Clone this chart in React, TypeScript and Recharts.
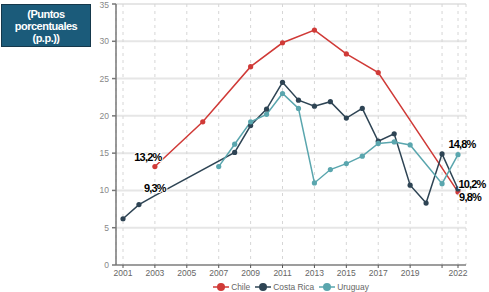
import { LineChart, Line, XAxis, YAxis, CartesianGrid } from 'recharts'

const years = [2001, 2002, 2003, 2004, 2005, 2006, 2007, 2008, 2009, 2010, 2011, 2012, 2013, 2014, 2015, 2016, 2017, 2018, 2019, 2020, 2021, 2022]
const chile = [null, null, 13.2, null, null, 19.2, null, null, 26.6, null, 29.8, null, 31.5, null, 28.3, null, 25.8, null, null, null, null, 9.8]
const costaRica = [6.2, 8.1, 9.3, null, null, null, null, 15.1, 18.7, 20.9, 24.5, 22.1, 21.3, 21.9, 19.7, 21.0, 16.6, 17.6, 10.7, 8.3, 14.9, 10.2]
const uruguay = [null, null, null, null, null, null, 13.2, 16.2, 19.2, 20.2, 23.0, 21.0, 11.0, 12.8, 13.6, 14.6, 16.3, 16.5, 16.1, null, 10.9, 14.8]
const xTicks = [2001, 2003, 2005, 2007, 2009, 2011, 2013, 2015, 2017, 2019, 2021, 2022]
const yTicks = [0, 5, 10, 15, 20, 25, 30, 35]

// which points get a value label: series -> year -> text
const pointLabels: Record<string, Record<number, string>> = {
  chile: { 2003: '13,2%', 2022: '9,8%' },
  costaRica: { 2003: '9,3%', 2022: '10,2%' },
  uruguay: { 2022: '14,8%' },
}
// dots hidden on these points (value only used for the label)
const hiddenDots: Record<string, number[]> = { costaRica: [2003] }

const data = years.map((year, i) => ({
  year,
  chile: chile[i],
  costaRica: costaRica[i],
  uruguay: uruguay[i],
}))

const series = [
  { key: 'chile', name: 'Chile', color: '#d03a37' },
  { key: 'costaRica', name: 'Costa Rica', color: '#2e4454' },
  { key: 'uruguay', name: 'Uruguay', color: '#5aa6ae' },
]

const labelOffset: Record<string, Record<number, [number, number]>> = {
  chile: { 2003: [-7, -6], 2022: [12, 9] },
  costaRica: { 2003: [0, -4], 2022: [14, -1] },
  uruguay: { 2022: [4, -7] },
}

const FONT = '"Liberation Sans", Arial, sans-serif'

function makeLabel(key: string) {
  return (props: any) => {
    const { x, y, index } = props
    const year = data[index]?.year
    const text = pointLabels[key][year]
    if (!text || x == null || y == null) return null
    const [dx, dy] = labelOffset[key][year]
    return (
      <text
        key={`${key}-${year}`}
        x={x + dx}
        y={y + dy}
        textAnchor="middle"
        fontFamily={FONT}
        fontWeight="bold"
        fontSize={11}
        letterSpacing={-0.8}
        fill="#000"
        stroke="#fff"
        strokeWidth={2}
        paintOrder="stroke"
      >
        {text}
      </text>
    )
  }
}

function makeDot(key: string, color: string) {
  return (props: any) => {
    const { cx, cy, index, value } = props
    const year = data[index]?.year
    if (value == null || cx == null || (hiddenDots[key] || []).includes(year)) return <g key={`${key}-d-${index}`} />
    return <circle key={`${key}-d-${index}`} cx={cx} cy={cy} r={2.6} fill={color} />
  }
}

function LegendBox() {
  return (
    <div
      style={{
        position: 'absolute',
        left: 116,
        width: 350,
        top: 282,
        display: 'flex',
        justifyContent: 'center',
        gap: 5,
        fontFamily: FONT,
        fontSize: 8.4,
        lineHeight: '10px',
        color: '#666',
      }}
    >
      {series.map((s) => (
        <div key={s.key} style={{ display: 'flex', alignItems: 'center', gap: 2 }}>
          <svg width={16} height={10}>
            <line x1={0} y1={5} x2={16} y2={5} stroke={s.color} strokeWidth={1.5} />
            <circle cx={8} cy={5} r={4} fill={s.color} />
          </svg>
          <span>{s.name}</span>
        </div>
      ))}
    </div>
  )
}

export default function App() {
  return (
    <div style={{ position: 'absolute', left: 0, top: 0, width: 489, height: 292, background: '#fff' }}>
      <LineChart width={489} height={292} data={data} margin={{ top: 4, right: 23, bottom: 12, left: 0 }}>
        <CartesianGrid stroke="#e6e6e6" strokeWidth={2} vertical={false} />
        <CartesianGrid stroke="#d6d6d6" strokeDasharray="3 4" horizontal={false} />
        <XAxis
          dataKey="year"
          type="number"
          domain={[2001, 2022]}
          ticks={xTicks}
          interval={0}
          tickFormatter={(v: number) => (v === 2021 ? '' : String(v))}
          padding={{ left: 7, right: 8 }}
          height={15}
          stroke="#555"
          tick={{ fill: '#666', fontSize: 8.5, fontFamily: FONT }}
          tickSize={3}
          tickMargin={2}
        />
        <YAxis
          domain={[0, 35]}
          ticks={yTicks}
          width={116}
          stroke="#777"
          strokeWidth={1.5}
          tick={{ fill: '#888', fontSize: 8.5, fontFamily: FONT }}
          tickSize={4}
          tickMargin={3}
        />
        {series.map((s) => (
          <Line
            key={s.key}
            dataKey={s.key}
            name={s.name}
            stroke={s.color}
            strokeWidth={1.5}
            connectNulls
            dot={makeDot(s.key, s.color)}
            activeDot={false}
            label={makeLabel(s.key)}
            isAnimationActive={false}
          />
        ))}
      </LineChart>
      <LegendBox />
      <div
        style={{
          position: 'absolute',
          left: 1,
          top: 4,
          width: 90,
          height: 43,
          background: '#1b5b7a',
          border: '1px solid #15384b',
          boxSizing: 'border-box',
          color: '#fff',
          fontFamily: FONT,
          fontWeight: 'bold',
          fontSize: 11,
          lineHeight: '12px',
          letterSpacing: -0.5,
          textAlign: 'center',
          paddingTop: 3,
        }}
      >
        (Puntos
        <br />
        porcentuales
        <br />
        (p.p.))
      </div>
    </div>
  )
}
